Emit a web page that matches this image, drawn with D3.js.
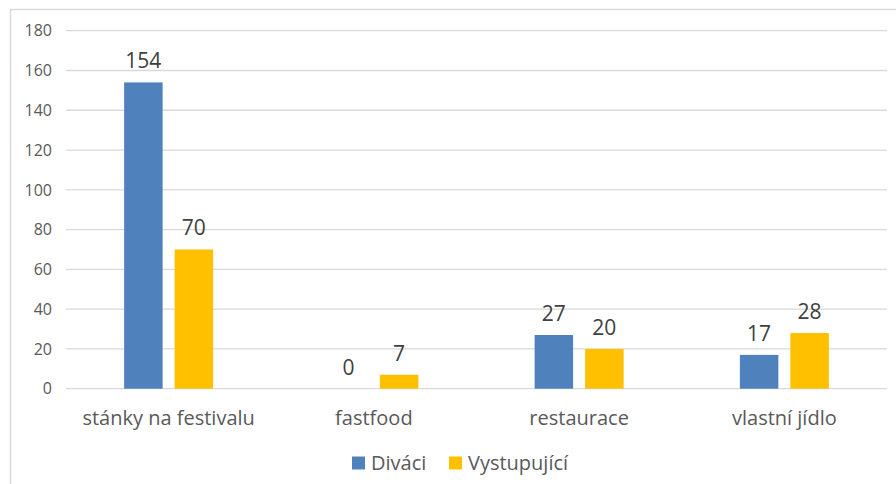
<!DOCTYPE html>
<html>
<head>
<meta charset="utf-8">
<script src="https://cdn.jsdelivr.net/npm/d3@7"></script>
<style>
  body { margin: 0; background: #fff; }
  svg { display: block; font-family: "Open Sans", sans-serif; }
</style>
</head>
<body>
<svg id="chart"></svg>
<script>
// data
const categories = ['stánky na festivalu', 'fastfood', 'restaurace', 'vlastní jídlo'];
const seriesNames = ['Diváci', 'Vystupující'];
const divaci = [154, 0, 27, 17];
const vystupujici = [70, 7, 20, 28];
const yTicks = [0, 20, 40, 60, 80, 100, 120, 140, 160, 180];

const colors = ['#4f81bd', '#ffc000'];
const textColor = '#595959';
const gridColor = '#d9d9d9';

const width = 896, height = 484;
const plot = { left: 66, right: 887, top: 30.7, bottom: 388.7 };

const svg = d3.select('#chart').attr('width', width).attr('height', height);

// chart frame (cropped at right and bottom)
svg.append('path')
    .attr('d', `M10.5,${height + 2} V9.5 H${width + 2}`)
    .attr('fill', 'none')
    .attr('stroke', gridColor)
    .attr('stroke-width', 1.5);

const x0 = d3.scaleBand().domain(categories).range([plot.left, plot.right]);
const x1 = d3.scaleBand().domain(seriesNames).range([0, 89]).paddingInner(0.238);
const y = d3.scaleLinear().domain([0, 180]).range([plot.bottom, plot.top]);

// gridlines
svg.append('g')
    .selectAll('line')
    .data(yTicks)
    .enter()
    .append('line')
    .attr('x1', plot.left)
    .attr('x2', plot.right)
    .attr('y1', d => y(d))
    .attr('y2', d => y(d))
    .attr('stroke', gridColor)
    .attr('stroke-width', 1.3);

// y tick labels
svg.append('g')
    .selectAll('text')
    .data(yTicks)
    .enter()
    .append('text')
    .attr('x', 52)
    .attr('y', d => y(d))
    .attr('dy', '0.36em')
    .attr('text-anchor', 'end')
    .attr('font-size', '16px')
    .attr('fill', textColor)
    .text(d => d);

const rows = categories.map((c, i) => ({ cat: c, vals: [divaci[i], vystupujici[i]] }));

const groups = svg.selectAll('.grp')
    .data(rows)
    .enter()
    .append('g')
    .attr('transform', d => `translate(${x0(d.cat) + (x0.bandwidth() - 89) / 2},0)`);

groups.selectAll('rect')
    .data(d => d.vals.map((v, k) => ({ name: seriesNames[k], v: v, k: k })))
    .enter()
    .append('rect')
    .attr('x', d => x1(d.name))
    .attr('y', d => y(d.v))
    .attr('width', x1.bandwidth())
    .attr('height', d => plot.bottom - y(d.v))
    .attr('fill', d => colors[d.k]);

groups.selectAll('text')
    .data(d => d.vals.map((v, k) => ({ name: seriesNames[k], v: v })))
    .enter()
    .append('text')
    .attr('x', d => x1(d.name) + x1.bandwidth() / 2)
    .attr('y', d => y(d.v) - 14)
    .attr('text-anchor', 'middle')
    .attr('font-size', '21px')
    .attr('fill', '#404040')
    .text(d => d.v);

// category labels
svg.append('g')
    .selectAll('text')
    .data(categories)
    .enter()
    .append('text')
    .attr('x', d => x0(d) + x0.bandwidth() / 2)
    .attr('y', 425)
    .attr('text-anchor', 'middle')
    .attr('font-size', '20px')
    .attr('fill', textColor)
    .text(d => d);

// legend
const legendX = [352, 449];
const legend = svg.append('g');
seriesNames.forEach((name, i) => {
    legend.append('rect')
        .attr('x', legendX[i])
        .attr('y', 456.5)
        .attr('width', 13)
        .attr('height', 13)
        .attr('fill', colors[i]);
    legend.append('text')
        .attr('x', legendX[i] + 19)
        .attr('y', 469.5)
        .attr('font-size', '20px')
        .attr('fill', textColor)
        .text(name);
});
</script>
</body>
</html>
